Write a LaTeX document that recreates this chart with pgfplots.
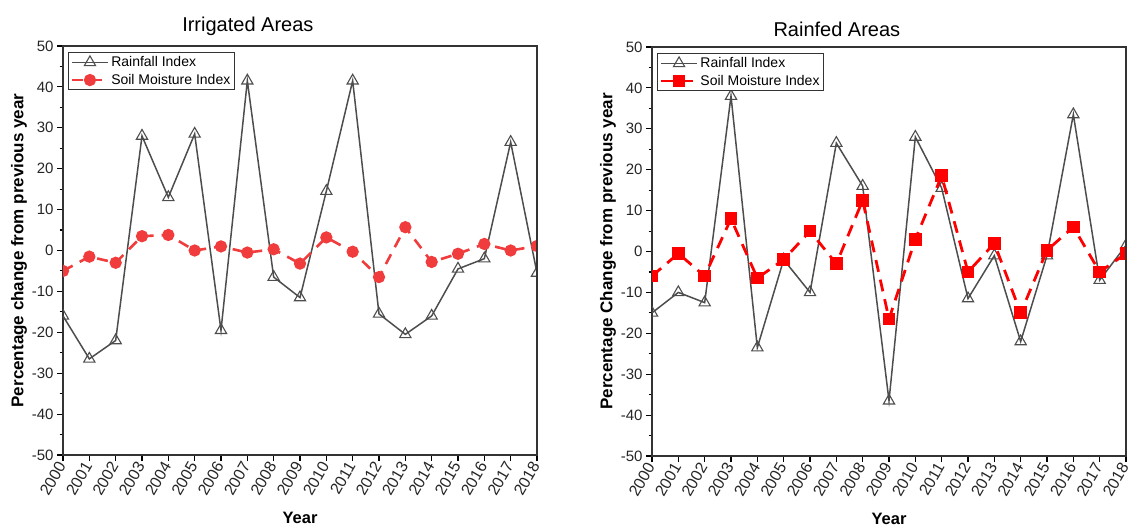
\documentclass[border=0pt]{standalone}
\usepackage{pgfplots}
\pgfplotsset{compat=1.18}
\usepackage{fontspec}
\setmainfont{Liberation Sans}

\definecolor{raingrey}{RGB}{77,77,77}
\definecolor{irrred}{RGB}{240,60,60}
\definecolor{rfred}{RGB}{255,0,0}

\pgfplotsset{
  panel/.style={
    scale only axis, width=474pt, height=409pt, anchor=south west,
    xmin=2000, xmax=2018, ymin=-50, ymax=50,
    xtick={2000,...,2018},
    xticklabels={2000,2001,2002,2003,2004,2005,2006,2007,2008,2009,2010,2011,2012,2013,2014,2015,2016,2017,2018},
    ytick={-50,-40,...,50},
    yticklabels={-50,-40,-30,-20,-10,0,10,20,30,40,50},
    minor y tick num=1,
    tick align=outside, xtick pos=bottom, ytick pos=left,
    major tick length=6pt, minor tick length=3.5pt,
    every tick/.style={black, line width=1.1pt},
    axis line style={line width=1.2pt, draw=black!80},
    tick label style={font=\fontsize{15}{17}\selectfont, color=black!85},
    x tick label style={font=\fontsize{16}{18}\selectfont, rotate=60, anchor=east, inner sep=2.5pt},
    xlabel style={font=\bfseries\fontsize{16.5}{19}\selectfont, yshift=-8pt},
    ylabel style={font=\bfseries\fontsize{17}{20}\selectfont, yshift=-2pt},
    xlabel={Year},
    title style={font=\fontsize{20}{23}\selectfont, at={(axis description cs:0.39,1)}, anchor=south, yshift=1pt},
    clip marker paths=true,
    legend style={at={(axis description cs:0.011,0.985)}, anchor=north west,
      font=\fontsize{14}{16}\selectfont, draw=black!80, line width=0.9pt,
      inner sep=2pt, row sep=2pt},
    legend cell align=left,
    legend image code/.code={%
      \draw[mark repeat=2,mark phase=2] plot coordinates {(0pt,0pt) (18pt,0pt) (36pt,0pt)};},
  },
  rain/.style={raingrey, line width=1.5pt, mark=triangle, mark size=6.5pt,
    mark options={solid, line width=1.1pt}},
}

\begin{document}
\begin{tikzpicture}
\path[use as bounding box] (0,0) rectangle (1137pt,530pt);

\begin{axis}[panel, at={(63pt,75pt)}, title={Irrigated Areas},
  ylabel={Percentage change from previous year}]
\addplot[rain] coordinates {
(2000,-16) (2001,-26.5) (2002,-22) (2003,28) (2004,13) (2005,28.5) (2006,-19.5)
(2007,41.5) (2008,-6.5) (2009,-11.5) (2010,14.5) (2011,41.5) (2012,-15.5)
(2013,-20.5) (2014,-16) (2015,-4.5) (2016,-2) (2017,26.5) (2018,-5.5)};
\addlegendentry{Rainfall Index}
\addplot[irrred, line width=2.6pt, dash pattern=on 11pt off 8pt, mark=*, mark size=4.8pt,
  mark options={solid}] coordinates {
(2000,-5) (2001,-1.5) (2002,-3) (2003,3.5) (2004,3.8) (2005,0) (2006,1)
(2007,-0.5) (2008,0.3) (2009,-3.2) (2010,3.2) (2011,-0.3) (2012,-6.5)
(2013,5.7) (2014,-2.8) (2015,-0.8) (2016,1.6) (2017,0) (2018,1.1)};
\addlegendentry{Soil Moisture Index}
\draw[line width=1.2pt, draw=black!80] (rel axis cs:0,1) -- (rel axis cs:1,1) -- (rel axis cs:1,0);
\end{axis}

\begin{axis}[panel, at={(652pt,74pt)}, title={Rainfed Areas},
  ylabel={Percentage Change from previous year}]
\addplot[rain] coordinates {
(2000,-15) (2001,-10) (2002,-12.5) (2003,38) (2004,-23.5) (2005,-2) (2006,-10)
(2007,26.5) (2008,16) (2009,-36.5) (2010,28) (2011,15.5) (2012,-11.5)
(2013,-1) (2014,-22) (2015,-1) (2016,33.5) (2017,-7) (2018,1.5)};
\addlegendentry{Rainfall Index}
\addplot[rfred, line width=2.8pt, dash pattern=on 12pt off 8pt, mark=square*, mark size=5pt,
  mark options={solid}] coordinates {
(2000,-6) (2001,-0.5) (2002,-6) (2003,8) (2004,-6.5) (2005,-2) (2006,5)
(2007,-3) (2008,12.5) (2009,-16.5) (2010,3) (2011,18.5) (2012,-5)
(2013,2) (2014,-15) (2015,0.3) (2016,6) (2017,-5) (2018,-0.5)};
\addlegendentry{Soil Moisture Index}
\draw[line width=1.2pt, draw=black!80] (rel axis cs:0,1) -- (rel axis cs:1,1) -- (rel axis cs:1,0);
\end{axis}
\end{tikzpicture}
\end{document}
